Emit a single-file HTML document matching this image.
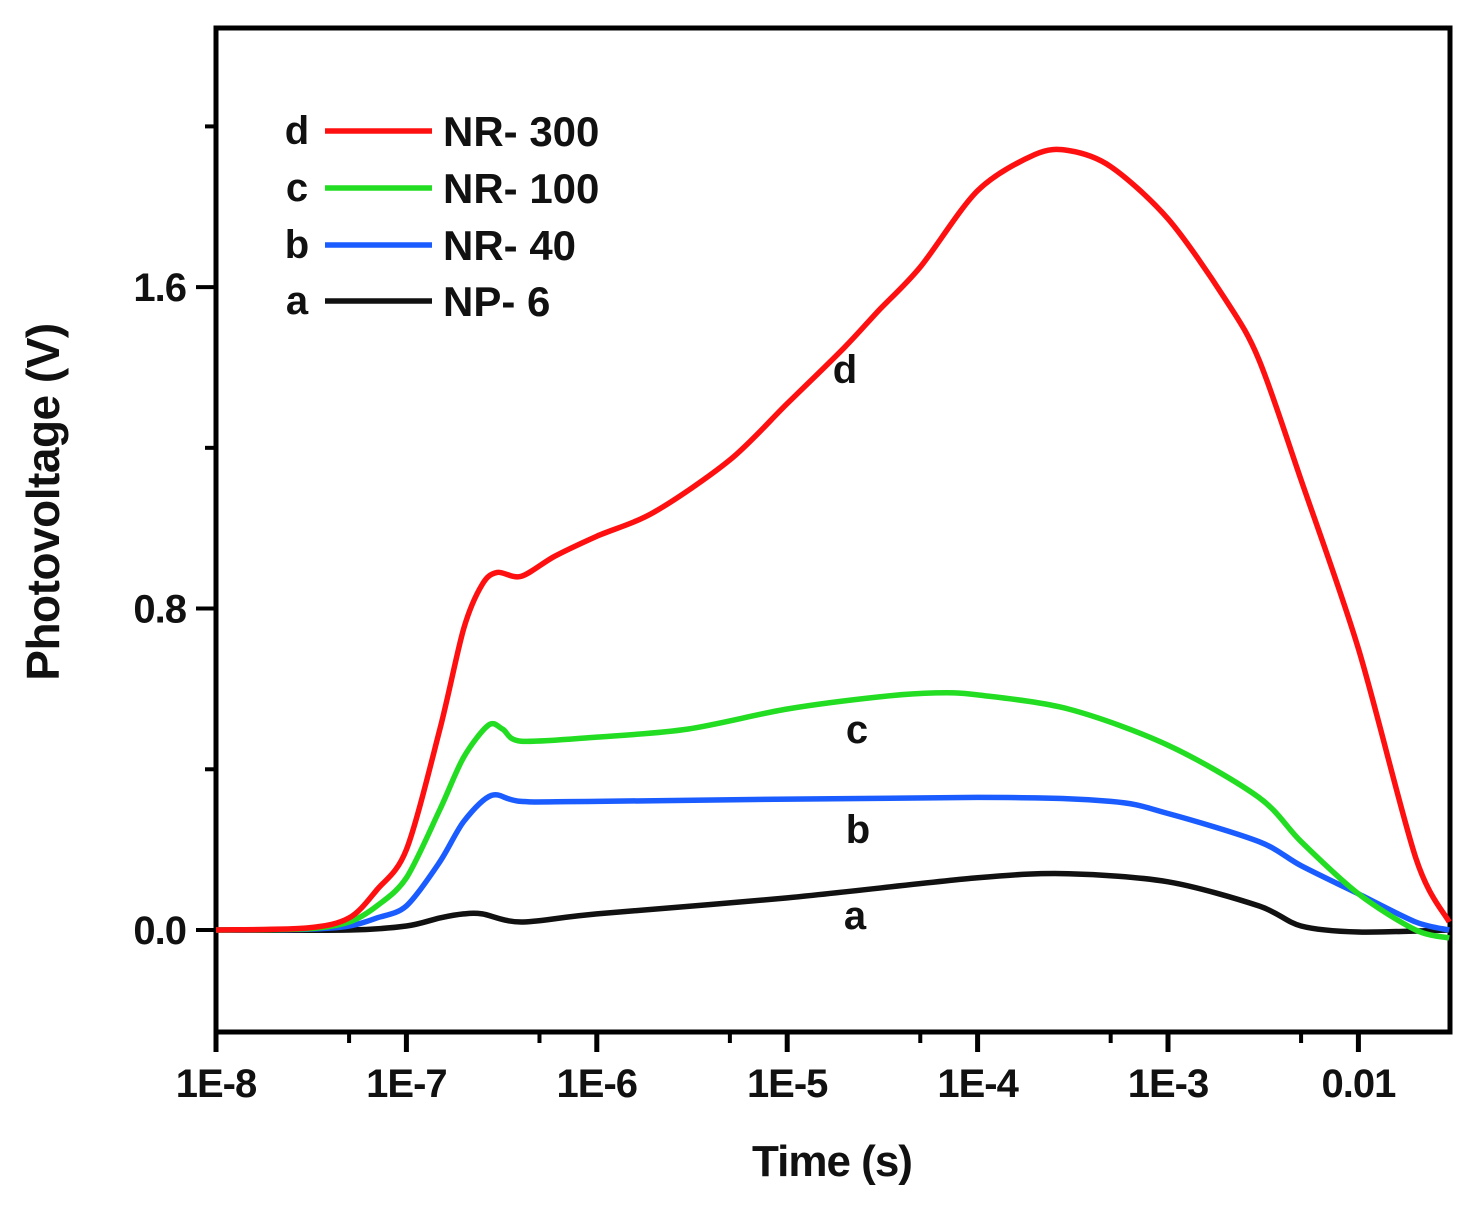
<!DOCTYPE html>
<html><head><meta charset="utf-8"><style>
body{margin:0;background:#fff}
svg text{font-family:"Liberation Sans",Arial,sans-serif;font-weight:bold;fill:#111}
</style></head><body>
<svg id="chart" width="1470" height="1208" xmlns="http://www.w3.org/2000/svg">
<g id="axes"></g><g id="series"></g><g id="legend"></g>
</svg>
<script>
const xTicks=[1e-8,1e-7,1e-6,1e-5,1e-4,1e-3,1e-2];
const xTickLabels=["1E-8","1E-7","1E-6","1E-5","1E-4","1E-3","0.01"];
const yTicks=[0,0.8,1.6];
const yTickLabels=["0.0","0.8","1.6"];
const yMinorTicks=[0.4,1.2,2.0];
const tRed=[1e-8,3e-8,5e-8,7e-8,1e-7,1.5e-7,2e-7,2.5e-7,3e-7,4e-7,6e-7,1e-6,2e-6,5e-6,1e-5,2e-5,3e-5,5e-5,1e-4,2e-4,3e-4,5e-4,1e-3,2e-3,3e-3,5e-3,1e-2,2e-2,3e-2];
const vRed=[0,0.005,0.03,0.1,0.2,0.5,0.75,0.86,0.89,0.88,0.93,0.98,1.04,1.17,1.31,1.45,1.54,1.65,1.84,1.93,1.94,1.9,1.77,1.57,1.42,1.12,0.7,0.18,0.02];
const tGreen=[1e-8,3e-8,5e-8,7e-8,1e-7,1.5e-7,2e-7,2.7e-7,3.2e-7,4e-7,1e-6,3e-6,1e-5,3e-5,6e-5,1e-4,3e-4,1e-3,3e-3,5e-3,1e-2,2e-2,3e-2];
const vGreen=[0,0.003,0.02,0.06,0.13,0.3,0.43,0.51,0.5,0.47,0.48,0.5,0.55,0.58,0.59,0.585,0.55,0.46,0.33,0.22,0.09,0,-0.02];
const tBlue=[1e-8,3e-8,5e-8,7e-8,1e-7,1.5e-7,2e-7,2.8e-7,4e-7,1e-6,1e-4,5e-4,1e-3,3e-3,5e-3,1e-2,2e-2,3e-2];
const vBlue=[0,0.002,0.01,0.03,0.06,0.17,0.27,0.335,0.32,0.32,0.33,0.32,0.29,0.22,0.16,0.09,0.02,0];
const tBlack=[1e-8,5e-8,1e-7,1.5e-7,2e-7,2.5e-7,4e-7,1e-6,1e-5,1e-4,3e-4,1e-3,3e-3,5e-3,1e-2,3e-2];
const vBlack=[0,0,0.01,0.03,0.04,0.04,0.02,0.04,0.08,0.13,0.14,0.12,0.06,0.01,-0.005,0];
const seriesNames=["NR- 300","NR- 100","NR- 40","NP- 6"];
const seriesLetters=["d","c","b","a"];

const L=216,R=1450,T=28,B=1032;
const X=t=>L+(Math.log10(t)+8)*190.4;
const Y=v=>930-v*401.8;
const NS="http://www.w3.org/2000/svg";
function mk(tag,parent,attrs){const e=document.createElementNS(NS,tag);for(const k in attrs)e.setAttribute(k,attrs[k]);parent.appendChild(e);return e;}
function smooth(pts){
  let d='M'+pts[0][0].toFixed(1)+','+pts[0][1].toFixed(1);
  for(let i=0;i<pts.length-1;i++){
    const p0=pts[Math.max(0,i-1)],p1=pts[i],p2=pts[i+1],p3=pts[Math.min(pts.length-1,i+2)];
    const k=1/6*0.9;
    const c1=[p1[0]+(p2[0]-p0[0])*k,p1[1]+(p2[1]-p0[1])*k];
    const c2=[p2[0]-(p3[0]-p1[0])*k,p2[1]-(p3[1]-p1[1])*k];
    d+=' C'+c1.map(v=>v.toFixed(1)).join(',')+' '+c2.map(v=>v.toFixed(1)).join(',')+' '+p2[0].toFixed(1)+','+p2[1].toFixed(1);
  }
  return d;
}
const ax=document.getElementById('axes'),sg=document.getElementById('series'),lg=document.getElementById('legend');
const frame=mk('rect',ax,{x:L,y:T,width:R-L,height:B-T,fill:'none',stroke:'#000','stroke-width':5});


xTicks.forEach((t,i)=>{
  const x=X(t);
  const tk=mk('line',ax,{x1:x,x2:x,y1:B,y2:B+20,stroke:'#000','stroke-width':5});
  
  
  const lb=mk('text',ax,{x:x,y:B+65,'text-anchor':'middle','font-size':40,'letter-spacing':-1});
  lb.textContent=xTickLabels[i];
  
  
  const mx=X(t*5);
  if(mx<R){const m=mk('line',ax,{x1:mx,x2:mx,y1:B,y2:B+11,stroke:'#000','stroke-width':4});
  
  }
});
yTicks.forEach((v,i)=>{
  const y=Y(v);
  const tk=mk('line',ax,{x1:L-20,x2:L,y1:y,y2:y,stroke:'#000','stroke-width':4});
  
  
  const lb=mk('text',ax,{x:L-30,y:y+14,'text-anchor':'end','font-size':40,'letter-spacing':-1});
  lb.textContent=yTickLabels[i];
  
  
});
yMinorTicks.forEach(v=>{
  const y=Y(v);
  const m=mk('line',ax,{x1:L-11,x2:L,y1:y,y2:y,stroke:'#000','stroke-width':4});
  
  
});
const xt=mk('text',ax,{x:832,y:1176,'text-anchor':'middle','font-size':44,'letter-spacing':-1});
xt.textContent='Time (s)';


const yt=mk('text',ax,{x:0,y:0,'text-anchor':'middle','font-size':46,'letter-spacing':-0.5,transform:'translate(59,502) rotate(-90)'});
yt.textContent='Photovoltage (V)';



const S=[[tRed,vRed,'#ff1010'],[tGreen,vGreen,'#22dd22'],[tBlue,vBlue,'#1a5cff'],[tBlack,vBlack,'#111']];
const curveLbl=[[845,383],[857,743],[858,843],[855,929]];
S.slice().reverse().forEach((s,ri)=>{
  const i=3-ri;
  const pts=s[0].map((t,k)=>[X(t),Y(s[1][k])]);
  const p=mk('path',sg,{d:smooth(pts),fill:'none',stroke:s[2],'stroke-width':5.5,'stroke-linejoin':'round'});
  
  
  const cl=mk('text',sg,{x:curveLbl[i][0],y:curveLbl[i][1],'text-anchor':'middle','font-size':40});
  cl.textContent=seriesLetters[i];
  
  
});
[131,188,245,301].forEach((y,i)=>{
  const a=mk('text',lg,{x:297,y:y+13,'text-anchor':'middle','font-size':40});
  a.textContent=seriesLetters[i];
  
  
  const l=mk('line',lg,{x1:325,x2:432,y1:y,y2:y,stroke:S[i][2],'stroke-width':5.5});
  
  
  const t=mk('text',lg,{x:443,y:y+15,'font-size':42});
  t.textContent=seriesNames[i];
  
  
});
</script>
</body></html>
